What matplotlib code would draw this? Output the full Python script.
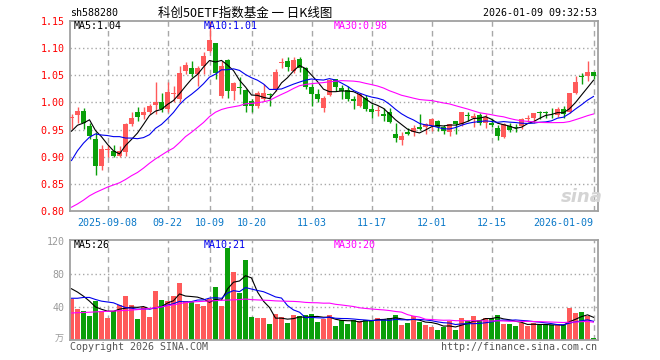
import numpy as np
import matplotlib
matplotlib.use("Agg")
import matplotlib.pyplot as plt

plt.rcParams['font.family'] = ['DejaVu Sans Mono', 'Noto Sans CJK SC']

## daily bars, 2025-08-29 .. 2026-01-09 (88 sessions)
opens = [0.971, 0.977, 0.985, 0.957, 0.933, 0.883, 0.912, 0.911, 0.902, 0.909,
         0.960, 0.982, 0.977, 0.983, 0.995, 1.000, 0.987, 1.016, 1.006, 1.057,
         1.064, 1.052, 1.067, 1.095, 1.109, 1.012, 1.078, 1.021, 1.028, 1.023,
         1.002, 0.994, 1.006, 1.016, 1.023, 1.073, 1.077, 1.058, 1.080, 1.064,
         1.029, 1.015, 0.990, 1.013, 1.043, 1.026, 1.023, 1.006, 0.993, 1.008,
         0.988, 0.984, 0.979, 0.982, 0.942, 0.931, 0.946, 0.945, 0.955, 0.954,
         0.957, 0.966, 0.955, 0.946, 0.966, 0.960, 0.976, 0.971, 0.976, 0.963,
         0.963, 0.952, 0.936, 0.957, 0.954, 0.956, 0.970, 0.971, 0.981, 0.982,
         0.979, 0.976, 0.987, 0.982, 1.017, 1.048, 1.048, 1.056]
highs = [0.979, 0.991, 0.989, 0.963, 0.945, 0.921, 0.921, 0.921, 0.920, 0.963,
         0.982, 0.991, 0.991, 0.997, 1.037, 1.017, 1.037, 1.031, 1.067, 1.075,
         1.077, 1.067, 1.092, 1.150, 1.110, 1.077, 1.080, 1.037, 1.046, 1.025,
         1.006, 1.021, 1.034, 1.018, 1.061, 1.081, 1.083, 1.083, 1.083, 1.066,
         1.034, 1.025, 1.012, 1.044, 1.044, 1.032, 1.031, 1.012, 1.017, 1.013,
         0.997, 0.993, 0.989, 0.989, 0.962, 0.945, 0.952, 0.958, 0.979, 0.962,
         0.972, 0.968, 0.958, 0.961, 0.966, 0.983, 0.983, 0.980, 0.980, 0.979,
         0.969, 0.958, 0.963, 0.962, 0.960, 0.971, 0.977, 0.980, 0.985, 0.984,
         0.989, 0.991, 0.994, 1.017, 1.048, 1.054, 1.077, 1.056]
lows = [0.951, 0.963, 0.951, 0.933, 0.867, 0.876, 0.899, 0.899, 0.899, 0.902,
        0.957, 0.966, 0.969, 0.979, 0.979, 0.982, 0.982, 1.000, 1.000, 1.052,
        1.046, 1.031, 1.052, 1.092, 1.043, 1.008, 1.009, 1.004, 1.015, 0.983,
        0.983, 0.989, 1.003, 0.994, 1.021, 1.064, 1.058, 1.055, 1.056, 1.025,
        0.993, 1.000, 0.983, 1.011, 1.021, 1.006, 1.003, 0.987, 0.991, 0.985,
        0.971, 0.975, 0.966, 0.962, 0.928, 0.921, 0.940, 0.938, 0.949, 0.942,
        0.948, 0.948, 0.942, 0.938, 0.942, 0.957, 0.966, 0.954, 0.958, 0.952,
        0.955, 0.931, 0.934, 0.946, 0.945, 0.951, 0.964, 0.963, 0.969, 0.972,
        0.971, 0.974, 0.971, 0.980, 1.015, 1.034, 1.040, 1.044]
closes = [0.972, 0.985, 0.962, 0.939, 0.883, 0.915, 0.915, 0.902, 0.911, 0.960,
          0.971, 0.974, 0.982, 0.993, 1.000, 0.987, 1.020, 1.018, 1.055, 1.069,
          1.052, 1.064, 1.086, 1.115, 1.055, 1.067, 1.021, 1.035, 1.026, 0.993,
          0.993, 1.018, 1.017, 1.014, 1.056, 1.075, 1.066, 1.079, 1.064, 1.028,
          1.015, 1.006, 1.009, 1.041, 1.028, 1.021, 1.006, 1.003, 1.015, 0.988,
          0.982, 0.985, 0.975, 0.964, 0.934, 0.939, 0.942, 0.953, 0.951, 0.961,
          0.969, 0.954, 0.948, 0.960, 0.960, 0.982, 0.975, 0.975, 0.963, 0.974,
          0.958, 0.939, 0.961, 0.950, 0.953, 0.969, 0.971, 0.980, 0.980, 0.980,
          0.978, 0.988, 0.979, 1.017, 1.037, 1.047, 1.056, 1.048]
## volume, 万手
volumes = [49.7, 38.0, 35.6, 29.0, 47.7, 35.6, 26.7, 34.7, 42.0, 53.3,
           42.0, 25.5, 39.6, 27.9, 59.8, 48.9, 47.7, 53.3, 69.1, 46.9,
           46.0, 44.0, 41.6, 49.7, 64.2, 41.6, 111.5, 82.8, 57.0, 96.2,
           27.9, 26.7, 26.7, 19.4, 31.5, 27.9, 20.6, 29.9, 29.5, 29.9,
           31.5, 21.8, 25.0, 29.9, 17.4, 24.6, 19.8, 24.6, 22.6, 24.6,
           24.6, 26.7, 25.9, 26.7, 30.3, 18.6, 20.6, 28.7, 21.8, 18.6,
           15.8, 12.5, 15.4, 22.6, 12.5, 26.7, 22.6, 29.1, 24.6, 26.7,
           26.7, 30.3, 19.4, 19.4, 17.4, 20.6, 17.4, 20.6, 17.8, 17.8,
           17.8, 17.8, 17.8, 39.2, 32.7, 33.9, 28.7, 2.8]

## moving-average values before enough bars exist
ma5_head = [0.947, 0.958, 0.962, 0.968]
ma10_head = [0.893, 0.911, 0.925, 0.936, 0.942, 0.940, 0.939, 0.937, 0.937]
ma30_head = [0.807, 0.813, 0.820, 0.828, 0.834, 0.839, 0.844, 0.848, 0.852, 0.858,
             0.865, 0.871, 0.879, 0.888, 0.896, 0.903, 0.910, 0.916, 0.926, 0.937,
             0.945, 0.954, 0.963, 0.974, 0.982, 0.987, 0.990, 0.992, 0.994]
vma5_head = [62, 58, 53, 47]
vma10_head = [50.5, 50.5, 51.5, 51.5, 49, 47, 46, 45, 42]
vma30_head = [32.7, 33, 33.3, 33.6, 34, 34.4, 34.7, 35, 35.4, 35.8,
              36.2, 36.8, 37.4, 38, 39, 40, 41.5, 42.5, 44, 45.2,
              46, 46.4, 46.8, 47.2, 47.6, 48, 48.3, 48.6, 48.9]

date_idx = [6, 16, 23, 30, 40, 50, 60, 70, 87]
date_labels = ['2025-09-08', '09-22', '10-09', '10-20', '11-03', '11-17',
               '12-01', '12-15', '2026-01-09']
price_ticks = [0.80, 0.85, 0.90, 0.95, 1.00, 1.05, 1.10, 1.15]
vol_ticks = [40, 80, 120]
ma_names = ['MA5', 'MA10', 'MA30']
price_ma_text = ['1.04', '1.01', '0.98']
vol_ma_text = ['26', '21', '20']


def moving_avg(vals, n, head):
    vals = np.asarray(vals, dtype=float)
    out = np.empty(len(vals))
    for i in range(len(vals)):
        if i < n - 1:
            out[i] = head[i]
        else:
            out[i] = vals[i - n + 1:i + 1].mean()
    return out


RED = '#ff5a5a'
GREEN = '#0a9f0a'
MA_COLORS = ['black', '#0000ee', '#ff00ff']
GRID = '#a8a8a8'
W, H = 660, 360
BAR_W = 5 / 6.0   # 5 px out of a 6 px slot

x = np.arange(len(closes))
o = np.array(opens); c = np.array(closes)
cols = [RED if cc >= oo else GREEN for oo, cc in zip(o, c)]

fig = plt.figure(figsize=(6.6, 3.6), dpi=100)
fig.patch.set_facecolor('white')
ax = fig.add_axes([70 / W, 1 - 211 / H, 528 / W, 190 / H])
axv = fig.add_axes([70 / W, 1 - 340 / H, 528 / W, 100 / H])

for a in (ax, axv):
    a.set_xlim(-0.25, 87.75)
    for s in a.spines.values():
        s.set_color('#a0a0a0')
        s.set_linewidth(1.3)
    for d in date_idx:
        a.axvline(d, color=GRID, lw=1, ls=(0, (4, 3)), zorder=0)

## price panel
for p in price_ticks[1:-1]:
    ax.axhline(p, color=GRID, lw=1, ls=(0, (1, 2)), zorder=0)
ax.set_ylim(0.80, 1.15)
ax.set_yticks(price_ticks)
ax.set_yticklabels(['%.2f' % p for p in price_ticks])
ax.tick_params(axis='y', length=0, pad=4, labelcolor='red', labelsize=7.2)
ax.set_xticks(date_idx)
ax.set_xticklabels(date_labels)
ax.tick_params(axis='x', length=0, pad=5, labelcolor='#0a78c8', labelsize=7.2)
ax.get_xticklabels()[-1].set_ha('right')

ax.vlines(x, lows, highs, colors=cols, lw=1, zorder=2)
body_low = np.minimum(o, c)
body_h = np.maximum(np.abs(c - o), 0.0015)
ax.bar(x, body_h, bottom=body_low, width=BAR_W, color=cols, linewidth=0, zorder=3)

for n, head, col in zip([5, 10, 30], [ma5_head, ma10_head, ma30_head], MA_COLORS):
    ax.plot(x, moving_avg(closes, n, head), color=col, lw=0.8, zorder=4)

for xp, name, val, col in zip([74, 204, 334], ma_names, price_ma_text, MA_COLORS):
    fig.text(xp / W, 1 - 26 / H, '%s:%s' % (name, val), color=col, fontsize=7.2,
             ha='left', va='center')

fig.text(582 / W, 1 - 197 / H, 'sina', color='#d4d4d4', fontsize=13,
         fontweight='bold', style='italic', ha='center', va='center',
         family=['DejaVu Sans'])

## volume panel
for v in vol_ticks[:-1]:
    axv.axhline(v, color=GRID, lw=1, ls=(0, (1, 2)), zorder=0)
axv.set_ylim(0, 121)
axv.set_yticks(vol_ticks)
axv.tick_params(axis='y', length=0, pad=4, labelcolor='#9a9a9a', labelsize=7.2)
axv.set_xticks([])
axv.bar(x, volumes, width=BAR_W, color=cols, linewidth=0, zorder=2)
for n, head, col in zip([5, 10, 30], [vma5_head, vma10_head, vma30_head], MA_COLORS):
    axv.plot(x, moving_avg(volumes, n, head), color=col, lw=0.8, zorder=4)

for xp, name, val, col in zip([74, 204, 334], ma_names, vol_ma_text, MA_COLORS):
    fig.text(xp / W, 1 - 245.5 / H, '%s:%s' % (name, val), color=col, fontsize=7.2,
             ha='left', va='center')
fig.text(64 / W, 1 - 339 / H, '万', color='#9a9a9a', fontsize=6.5, ha='right',
         va='center', family=['Noto Sans CJK SC'])

## header / footer
fig.text(70 / W, 1 - 13 / H, 'sh588280', fontsize=7.2, ha='left', va='center')
fig.text(245 / W, 1 - 13 / H, '科创50ETF指数基金 一 日K线图', fontsize=9,
         ha='center', va='center', family=['Noto Sans CJK SC', 'DejaVu Sans'])
fig.text(597 / W, 1 - 13 / H, '2026-01-09 09:32:53', fontsize=7.2,
         ha='right', va='center')
fig.text(70 / W, 1 - 347 / H, 'Copyright 2026 SINA.COM', fontsize=7.2,
         color='#555555', ha='left', va='center')
fig.text(597 / W, 1 - 347 / H, 'http://finance.sina.com.cn', fontsize=7.2,
         color='#555555', ha='right', va='center')

fig.savefig('out.png', dpi=100)
